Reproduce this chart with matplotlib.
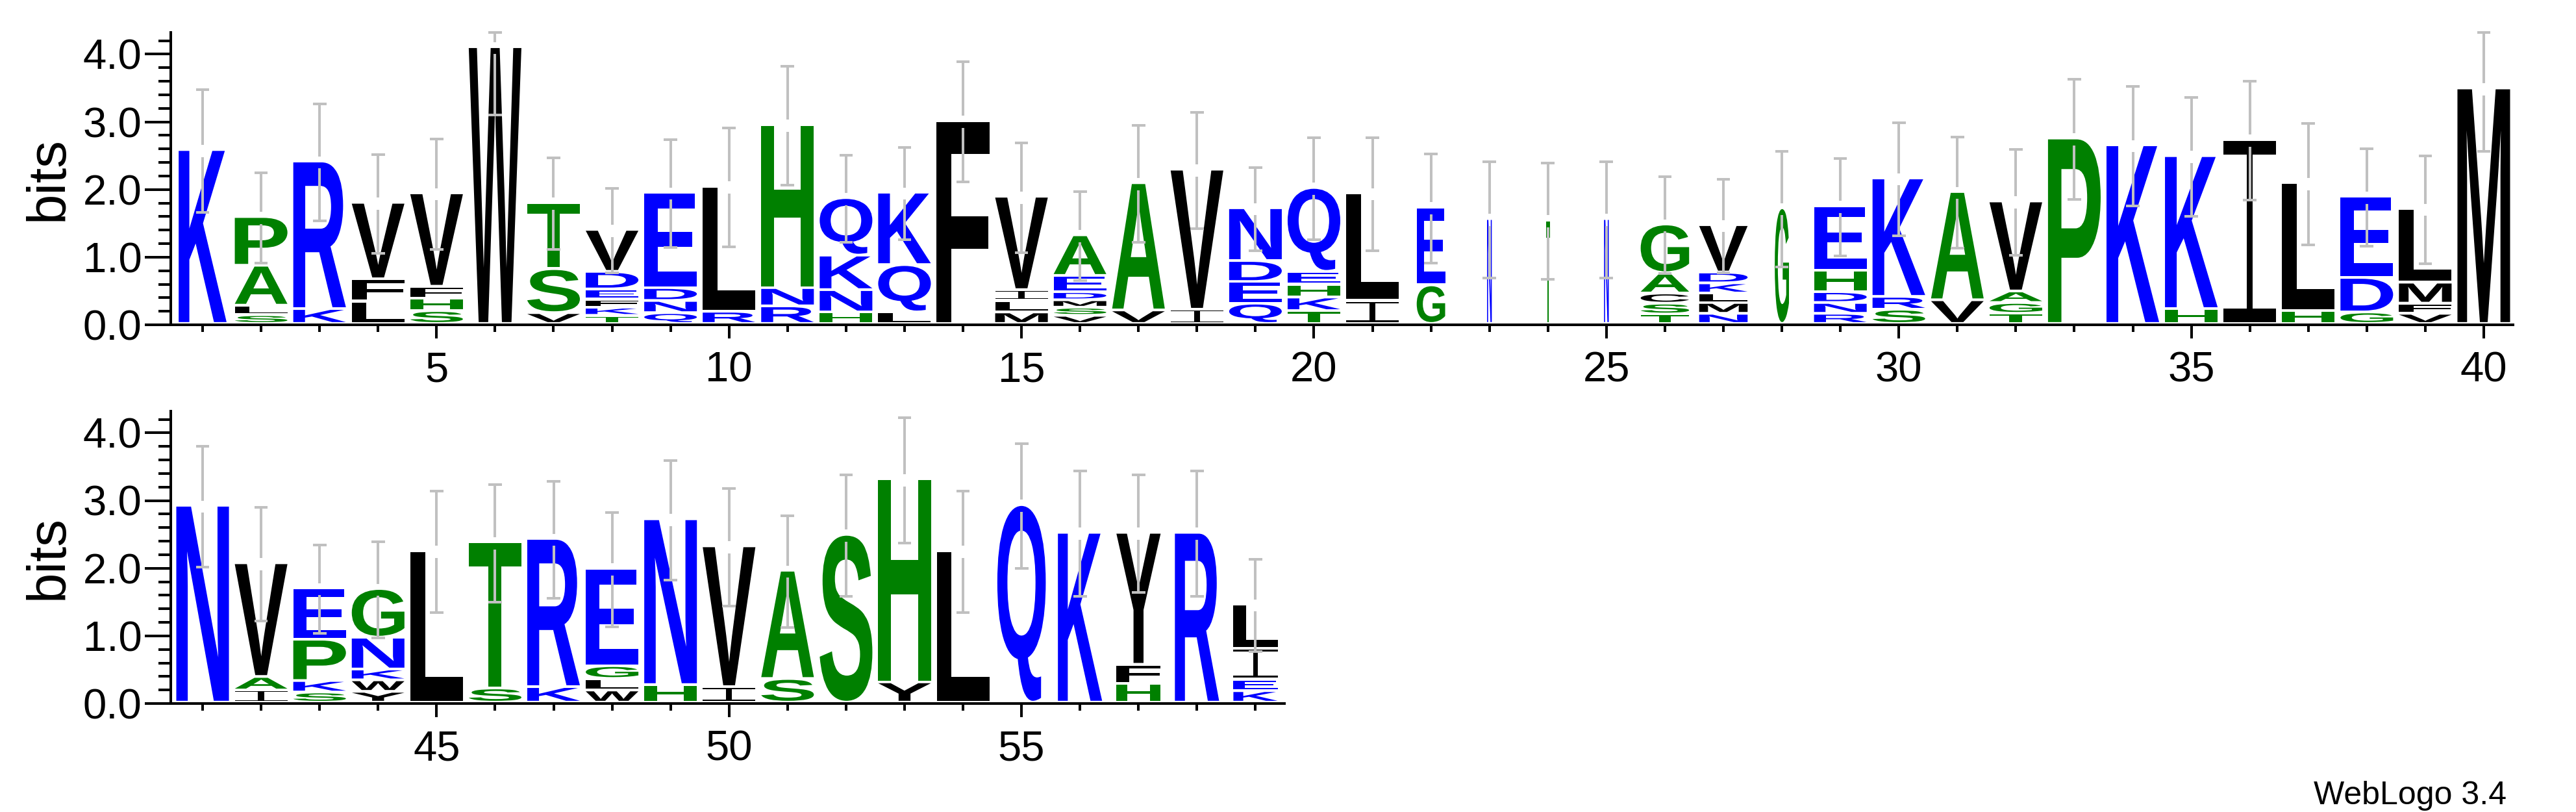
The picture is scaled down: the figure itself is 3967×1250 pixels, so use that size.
import matplotlib
matplotlib.use('Agg')
import matplotlib.pyplot as plt
from matplotlib.textpath import TextPath
from matplotlib.font_manager import FontProperties
from matplotlib.patches import PathPatch
from matplotlib.path import Path
from matplotlib.transforms import Affine2D
from matplotlib.ticker import MultipleLocator

plt.rcParams['font.family'] = ['Liberation Sans', 'DejaVu Sans']

# Sequence logo data: letters listed bottom to top, heights in bits
top_letters = ['K', 'SLAP', 'KR', 'LFV', 'SHFV', 'W', 'VST', 'TKFEDV', 'QNDE', 'RL',
               'RNH', 'HNKQ', 'LQK', 'F', 'MLIV', 'VSMDEA', 'VA', 'IV', 'QEDN', 'TKHEQ',
               'IL', 'GE', 'N', 'T', 'N', 'TSCAG', 'NMLKDV', 'G', 'RNDHE', 'SRK',
               'VA', 'TGAV', 'P', 'K', 'HK', 'I', 'HL', 'GDE', 'VFML', 'M']
top_bits = [[2.57], [.13, .14, .59, .72], [.22, 2.18], [.33, .33, 1.13], [.19, .18, .18, 1.38],
            [4.09], [.16, .65, .98], [.12, .12, .12, .15, .26, .62], [.16, .18, .19, 1.41], [.18, 1.85],
            [.26, .27, 2.41], [.17, .33, .51, .85], [.17, .70, 1.07], [3.00], [.17, .17, .16, 1.38],
            [.12, .12, .11, .12, .24, .60], [.20, 1.88], [.21, 2.07], [.30, .32, .31, .78],
            [.19, .20, .19, .19, 1.24], [.34, 1.59], [.57, 1.15], [1.55], [1.53], [1.55],
            [.14, .16, .15, .30, .72], [.15, .16, .14, .15, .16, .70], [1.71],
            [.15, .16, .16, .32, .95], [.21, .19, 1.75], [.35, 1.60], [.15, .16, .17, 1.33],
            [2.74], [2.64], [.22, 2.26], [2.72], [.19, 1.89], [.17, .51, 1.20],
            [.15, .15, .31, 1.09], [3.48]]
top_err = [.91, .67, .865, .73, .815, .99, .68, .625, .795, .88,
           .88, .645, .68, .89, .81, .655, .865, .86, .615, .755,
           .835, .805, .86, .86, .86, .715, .69, .855, .72, .835,
           .82, .785, .885, .88, .88, .88, .90, .72, .80, .92]
# fraction of non-gap symbols in each column (stack width)
top_width = [.91, 1, 1, 1, 1, 1, 1, 1, 1, 1,
             1, 1, 1, 1, 1, 1, 1, 1, 1, 1,
             1, .54, .09, .08, .09, .92, .92, .27, 1, 1,
             1, 1, 1, 1, 1, 1, 1, 1, 1, 1]

bot_letters = ['N', 'IAV', 'SKPE', 'YWKNG', 'L', 'ST', 'KR', 'WLGE', 'HN', 'IV',
               'SA', 'S', 'YH', 'L', 'Q', 'K', 'HFY', 'R', 'KEIL']
bot_bits = [[2.91], [.18, .20, 1.68], [.15, .17, .61, .76], [.16, .17, .16, .47, .72], [2.24],
            [.21, 2.16], [.23, 2.19], [.18, .17, .19, 1.44], [.26, 2.45], [.23, 2.08],
            [.35, 1.60], [2.48], [.30, 3.00], [2.24], [2.92], [2.51], [.28, .28, 1.95],
            [2.51], [.17, .17, .46, .65]]
bot_err = [.895, .84, .655, .71, .90, .87, .865, .845, .885, .87,
           .825, .895, .925, .90, .92, .93, .87, .93, .685]
bot_width = [1, 1, 1, 1, 1, 1, 1, 1, 1, 1,
             1, 1, 1, 1, .92, .84, .84, .84, .84]

top_first = 1
bot_first = 41

colors = {}
for c in 'WVLFIMYC':
    colors[c] = 'black'
for c in 'APSTGH':
    colors[c] = '#008000'
for c in 'KRDENQ':
    colors[c] = '#0000ff'

bold = FontProperties(family='Liberation Sans', weight='bold')
YMAX = 4.32
GAP = 0.04


def serif_i():
    # 'I' with top and bottom bars and a thin stem, in a unit box
    t, s = 0.075, 0.0575
    rects = [(0, 0, 1, t), (0.5 - s, t, 0.5 + s, 1 - t), (0, 1 - t, 1, 1)]
    verts, codes = [], []
    for x0, y0, x1, y1 in rects:
        verts += [(x0, y0), (x1, y0), (x1, y1), (x0, y1), (x0, y0)]
        codes += [Path.MOVETO, Path.LINETO, Path.LINETO, Path.LINETO, Path.CLOSEPOLY]
    return Path(verts, codes)


def glyph(ax, ch, x, y, w, h):
    if ch == 'I':
        tp = serif_i()
    else:
        tp = TextPath((0, 0), ch, size=1, prop=bold)
    bb = tp.get_extents()
    gh = h - GAP
    tr = (Affine2D().translate(-bb.x0, -bb.y0)
          .scale(w / bb.width, gh / bb.height)
          .translate(x - w / 2, y + GAP))
    ax.add_patch(PathPatch(tr.transform_path(tp), fc=colors[ch], ec='none', lw=0))


def draw_logo(ax, first, letters, bits, widths, errs):
    for i in range(len(letters)):
        x = first + i
        w = 0.9 * widths[i]
        y = 0.0
        for ch, h in zip(letters[i], bits[i]):
            glyph(ax, ch, x, y, w, h)
            y += h
        # error bar, with a small break at the stack top
        lo = y - errs[i]
        hi = min(y + errs[i], YMAX)
        kw = dict(color='#c0c0c0', lw=2.9, solid_capstyle='butt', clip_on=False, zorder=5)
        ax.plot([x, x], [lo, y - 0.09], **kw)
        ax.plot([x, x], [y + 0.09, hi], **kw)
        ax.plot([x - 0.115, x + 0.115], [lo, lo], **kw)
        ax.plot([x - 0.115, x + 0.115], [hi, hi], **kw)


def style(ax, first, n):
    ax.set_xlim(first - 0.5, first + n - 0.5)
    ax.set_ylim(0, YMAX)
    ax.spines['top'].set_visible(False)
    ax.spines['right'].set_visible(False)
    ax.spines['left'].set_position(('outward', 3))
    ax.spines['left'].set_linewidth(2.9)
    ax.spines['bottom'].set_linewidth(2.9)
    ax.xaxis.set_major_locator(MultipleLocator(5))
    ax.xaxis.set_minor_locator(MultipleLocator(1))
    ax.yaxis.set_major_locator(MultipleLocator(1))
    ax.yaxis.set_minor_locator(MultipleLocator(0.2))
    ax.yaxis.set_major_formatter('{x:.1f}')
    ax.tick_params(axis='y', which='major', length=29, width=2.9, labelsize=47, pad=3)
    ax.tick_params(axis='y', which='minor', length=14, width=2.9)
    ax.tick_params(axis='x', which='major', length=15, width=2.9, labelsize=47, pad=14)
    ax.tick_params(axis='x', which='minor', length=8, width=2.9)
    ax.set_ylabel('bits', fontsize=60, labelpad=10)


fig = plt.figure(figsize=(39.67, 12.5), dpi=100)
ax1 = fig.add_axes([267 / 3967, 750 / 1250, 3603 / 3967, 450 / 1250])
ax2 = fig.add_axes([267 / 3967, 167 / 1250, 1711.5 / 3967, 450 / 1250])

draw_logo(ax1, top_first, top_letters, top_bits, top_width, top_err)
style(ax1, top_first, len(top_letters))
draw_logo(ax2, bot_first, bot_letters, bot_bits, bot_width, bot_err)
style(ax2, bot_first, len(bot_letters))

fig.text(3860 / 3967, 1 - 1238 / 1250, 'WebLogo 3.4', ha='right', va='baseline', fontsize=36)

fig.savefig('out.png', dpi=100)
